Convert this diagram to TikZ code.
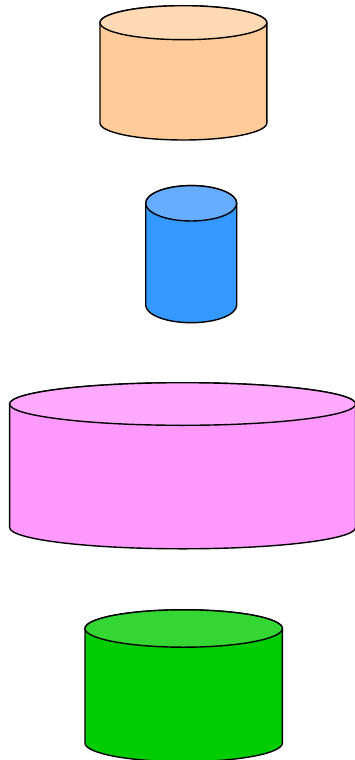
\documentclass[tikz,border=0pt]{standalone}
\definecolor{orangebody}{HTML}{FFCC99}
\definecolor{orangetop}{HTML}{FFD9B3}
\definecolor{bluebody}{HTML}{3399FF}
\definecolor{bluetop}{HTML}{66ADFF}
\definecolor{pinkbody}{HTML}{FF99FF}
\definecolor{pinktop}{HTML}{FFAAFF}
\definecolor{greenbody}{HTML}{00CC00}
\definecolor{greentop}{HTML}{33D633}
\tikzset{cylline/.style={draw=black,line width=1.4pt,line join=round}}
% #1 cx, #2 rx, #3 top centre y, #4 ry, #5 bottom centre y, #6 body colour, #7 top colour
\newcommand\mycyl[7]{%
  \path[cylline,fill=#6] (#1-#2,-#3) -- (#1-#2,-#5) arc[start angle=180,end angle=360,x radius=#2,y radius=#4]
      -- (#1+#2,-#3) arc[start angle=0,end angle=180,x radius=#2,y radius=#4] -- cycle;
  \path[cylline,fill=#7] (#1,-#3) ellipse[x radius=#2,y radius=#4];
}
\begin{document}
\begin{tikzpicture}[x=1pt,y=1pt]
\useasboundingbox (0,0) rectangle (355,-760);
\clip (0,0) rectangle (355,-760);
\mycyl{183.4}{83.4}{22.7}{17}{123}{orangebody}{orangetop}
\mycyl{191.2}{45.5}{203.3}{17.7}{305}{bluebody}{bluetop}
\mycyl{182.6}{173}{404}{21.3}{527.5}{pinkbody}{pinktop}
\mycyl{183.7}{98.7}{628.5}{18.7}{743}{greenbody}{greentop}
\end{tikzpicture}
\end{document}
